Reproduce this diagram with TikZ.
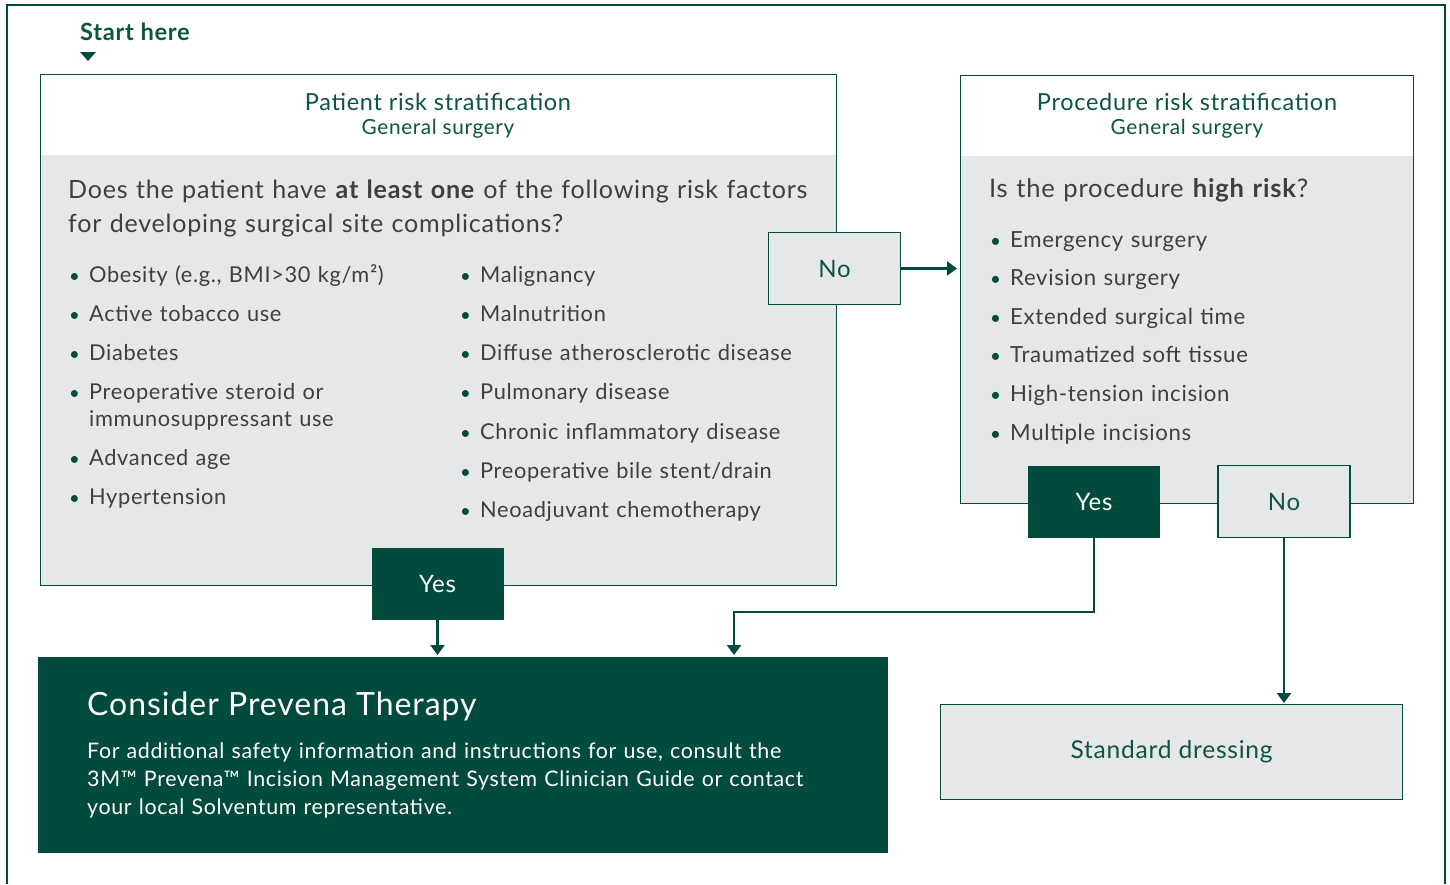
\documentclass[tikz,border=0pt]{standalone}
\usepackage{fontspec}
\setmainfont{Lato}[LetterSpace=3]
\usepackage{xcolor}
\usetikzlibrary{arrows.meta, calc}
\definecolor{PrevenaGreen}{HTML}{004B3D}
\definecolor{TitleGreen}{HTML}{0D5444}
\definecolor{PanelGrey}{HTML}{E6E7E8}
\definecolor{TextGrey}{HTML}{3F3F41}

\newcommand{\riskitem}[1]{\noindent\llap{\makebox[20pt][l]{\textcolor{PrevenaGreen}{\scalebox{0.85}{\textbullet}}}}#1\par}

\begin{document}
\begin{tikzpicture}[x=1pt, y=-1pt, >={Triangle[width=14pt,length=10pt]}, every node/.style={inner sep=0pt}]
    \tikzstyle{panel} = [rectangle, draw=PrevenaGreen, fill=PanelGrey, line width=1.2pt, anchor=north west, path picture={\fill[white] (path picture bounding box.north west) rectangle ([yshift=-80pt]path picture bounding box.north east);}]
    \tikzstyle{title} = [text=TitleGreen, align=center, font=\fontsize{23.5}{27}\selectfont]
    \tikzstyle{subtitle} = [text=TitleGreen, align=center, font=\fontsize{20.8}{24}\selectfont]
    \tikzstyle{question} = [text=TextGrey, anchor=base west, text width=800pt, font=\fontsize{25.1}{34}\selectfont]
    \tikzstyle{list} = [text=TextGrey, anchor=base west, text width=380pt, font=\fontsize{21.8}{27}\selectfont]
    \tikzstyle{nobox} = [rectangle, draw=PrevenaGreen, fill=PanelGrey, line width=1.2pt, minimum width=132pt, minimum height=72pt, text=TitleGreen, font=\fontsize{24}{28}\selectfont]
    \tikzstyle{yesbox} = [rectangle, fill=PrevenaGreen, minimum width=132pt, minimum height=72pt, text=white, font=\fontsize{24}{28}\selectfont]
    \tikzstyle{line} = [draw, ->, line width=2.4pt, PrevenaGreen]

    \useasboundingbox (0,0) rectangle (1450,884);
    % outer frame, open at the bottom
    \draw[PrevenaGreen, line width=1.2pt] (7,884) -- (7,5) -- (1445,5) -- (1445,884);

    % start marker
    \node[anchor=base west, text=TitleGreen, font=\fontsize{23.7}{27}\selectfont\bfseries] (start) at (80,40) {Start here};
    \fill[PrevenaGreen] (80,52) -- (96,52) -- (88,61) -- cycle;

    % patient panel
    \node[panel, minimum width=796pt, minimum height=511pt] (patient) at (40,74) {};
    \node[title] (patienttitle) at (438,102) {Patient risk stratification};
    \node[subtitle] (patientsub) at (438,129) {General surgery};
    \node[question] (patientq) at (68,198) {Does the patient have \textbf{at least one} of the following risk factors\\for developing surgical site complications?};
    \node[list] (patientlistA) at (89,282) {\setlength{\parskip}{12pt}%
        \riskitem{Obesity (e.g., BMI>30 kg/m²)}
        \riskitem{Active tobacco use}
        \riskitem{Diabetes}
        \riskitem{Preoperative steroid or\\immunosuppressant use}
        \riskitem{Advanced age}
        \riskitem{Hypertension}};
    \node[list] (patientlistB) at (480,282) {\setlength{\parskip}{12.3pt}%
        \riskitem{Malignancy}
        \riskitem{Malnutrition}
        \riskitem{Diffuse atherosclerotic disease}
        \riskitem{Pulmonary disease}
        \riskitem{Chronic inflammatory disease}
        \riskitem{Preoperative bile stent/drain}
        \riskitem{Neoadjuvant chemotherapy}};

    % procedure panel
    \node[panel, minimum width=453pt, minimum height=428pt] (procedure) at (960,75) {};
    \node[title] (proceduretitle) at (1187,102) {Procedure risk stratification};
    \node[subtitle] (proceduresub) at (1187,129) {General surgery};
    \node[question, text width=400pt, font=\fontsize{25.6}{34}\selectfont] (procedureq) at (989,197) {Is the procedure \textbf{high risk}?};
    \node[list, font=\fontsize{22.2}{27}\selectfont] (procedurelist) at (1010,247) {\setlength{\parskip}{11.6pt}%
        \riskitem{Emergency surgery}
        \riskitem{Revision surgery}
        \riskitem{Extended surgical time}
        \riskitem{Traumatized soft tissue}
        \riskitem{High-tension incision}
        \riskitem{Multiple incisions}};

    % answers
    \node[nobox] (patientno) at (834.5,268.5) {No};
    \node[yesbox] (patientyes) at (437.5,583.5) {Yes};
    \node[yesbox] (procedureyes) at (1094,501.5) {Yes};
    \node[nobox] (procedureno) at (1284,501.5) {No};

    % outcomes
    \node[rectangle, fill=PrevenaGreen, anchor=north west, minimum width=850pt, minimum height=196pt] (prevena) at (38,657) {};
    \node[anchor=base west, text=white, font=\fontsize{32}{36}\selectfont] (prevenatitle) at (87,715) {Consider Prevena Therapy};
    \node[anchor=base west, text=white, text width=790pt, font=\fontsize{21.4}{28}\selectfont] (prevenatext) at (87,758) {For additional safety information and instructions for use, consult the\\3M\texttrademark\ Prevena\texttrademark\ Incision Management System Clinician Guide or contact\\your local Solventum representative.};
    \node[rectangle, draw=PrevenaGreen, fill=PanelGrey, line width=1.2pt, anchor=north west, minimum width=462pt, minimum height=95pt, text=TitleGreen, font=\fontsize{24.6}{28}\selectfont] (standard) at (940,704) {Standard dressing};

    % connectors
    \coordinate (bend) at (734,612);
    \path [line] (patientno.east) -- ([xshift=-3pt]procedure.west |- patientno.east);
    \path [line] (patientyes.south) -- ([yshift=2pt]patientyes.south |- prevena.north);
    \path [line] (procedureyes.south) |- (bend) -- ([yshift=2pt]bend |- prevena.north);
    \path [line] (procedureno.south) -- ([yshift=1pt]procedureno.south |- standard.north);
\end{tikzpicture}
\end{document}
